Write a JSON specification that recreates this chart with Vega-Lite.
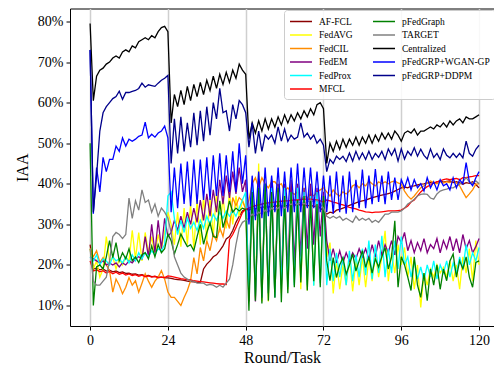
{
"$schema": "https://vega.github.io/schema/vega-lite/v6.json",
"width": 424, "height": 317.5,
"autosize": {"type": "none"},
"padding": {"left": 70, "top": 8.5, "right": 0, "bottom": 40.5},
"background": "white",
"config": {
 "font": "Liberation Serif",
 "view": {"stroke": "black", "strokeWidth": 1},
 "axis": {"labelColor": "black", "titleColor": "black", "titleFontWeight": "normal", "tickColor": "black", "domain": false, "labelFontSize": 14, "titleFontSize": 16, "tickSize": 4, "labelPadding": 3, "labelFont": "Liberation Serif", "titleFont": "Liberation Serif"}
},
"data": {"values": [
{"r":0,"AF-FCL":25,"FedAVG":24,"FedCIL":24,"FedEM":22,"FedProx":22,"MFCL":21,"pFedGraph":50,"TARGET":24,"Centralized":79.5,"pFedGRP+WGAN-GP":73,"pFedGRP+DDPM":73},
{"r":1,"AF-FCL":19,"FedAVG":19,"FedCIL":22,"FedEM":21.5,"FedProx":21,"MFCL":18.5,"pFedGraph":10,"TARGET":16,"Centralized":60.5,"pFedGRP+WGAN-GP":32.6,"pFedGRP+DDPM":33},
{"r":2,"AF-FCL":19.2,"FedAVG":21,"FedCIL":23.5,"FedEM":21,"FedProx":22.5,"MFCL":18.8,"pFedGraph":19.5,"TARGET":15,"Centralized":66.5,"pFedGRP+WGAN-GP":44,"pFedGRP+DDPM":42},
{"r":3,"AF-FCL":18.8,"FedAVG":17,"FedCIL":20.6,"FedEM":20.5,"FedProx":20,"MFCL":18.3,"pFedGraph":20,"TARGET":15,"Centralized":68,"pFedGRP+WGAN-GP":38,"pFedGRP+DDPM":53},
{"r":4,"AF-FCL":19,"FedAVG":19,"FedCIL":21.8,"FedEM":21,"FedProx":21.5,"MFCL":18.6,"pFedGraph":19,"TARGET":16,"Centralized":68.5,"pFedGRP+WGAN-GP":46.5,"pFedGRP+DDPM":57.5},
{"r":5,"AF-FCL":18.5,"FedAVG":27,"FedCIL":20,"FedEM":20,"FedProx":21,"MFCL":18,"pFedGraph":22,"TARGET":17,"Centralized":69.5,"pFedGRP+WGAN-GP":43,"pFedGRP+DDPM":59},
{"r":6,"AF-FCL":18.7,"FedAVG":21,"FedCIL":18.6,"FedEM":20.5,"FedProx":20,"MFCL":18.4,"pFedGraph":26,"TARGET":21,"Centralized":70,"pFedGRP+WGAN-GP":46,"pFedGRP+DDPM":60},
{"r":7,"AF-FCL":18.3,"FedAVG":22,"FedCIL":13.3,"FedEM":20,"FedProx":22,"MFCL":17.8,"pFedGraph":21.8,"TARGET":27,"Centralized":71,"pFedGRP+WGAN-GP":46,"pFedGRP+DDPM":61},
{"r":8,"AF-FCL":18.5,"FedAVG":19,"FedCIL":16.5,"FedEM":20.5,"FedProx":21,"MFCL":18.2,"pFedGraph":25.5,"TARGET":28,"Centralized":71.5,"pFedGRP+WGAN-GP":49.3,"pFedGRP+DDPM":61.5},
{"r":9,"AF-FCL":18.1,"FedAVG":21.5,"FedCIL":15,"FedEM":19.5,"FedProx":21.5,"MFCL":17.7,"pFedGraph":21,"TARGET":27.5,"Centralized":71,"pFedGRP+WGAN-GP":48,"pFedGRP+DDPM":62.8},
{"r":10,"AF-FCL":18.3,"FedAVG":20,"FedCIL":12.9,"FedEM":20.5,"FedProx":20.5,"MFCL":18,"pFedGraph":23,"TARGET":26.5,"Centralized":72.5,"pFedGRP+WGAN-GP":51.3,"pFedGRP+DDPM":60.8},
{"r":11,"AF-FCL":17.9,"FedAVG":22,"FedCIL":14.5,"FedEM":20,"FedProx":22,"MFCL":17.5,"pFedGraph":21.5,"TARGET":27.5,"Centralized":73,"pFedGRP+WGAN-GP":49.3,"pFedGRP+DDPM":62.5},
{"r":12,"AF-FCL":18,"FedAVG":21,"FedCIL":16.9,"FedEM":21,"FedProx":20.5,"MFCL":17.8,"pFedGraph":24,"TARGET":36.5,"Centralized":72.5,"pFedGRP+WGAN-GP":51,"pFedGRP+DDPM":62.5},
{"r":13,"AF-FCL":17.7,"FedAVG":28.5,"FedCIL":15,"FedEM":20.5,"FedProx":22.5,"MFCL":17.4,"pFedGraph":21,"TARGET":31.5,"Centralized":74,"pFedGRP+WGAN-GP":50.5,"pFedGRP+DDPM":62.8},
{"r":14,"AF-FCL":17.8,"FedAVG":21.5,"FedCIL":16.1,"FedEM":21.5,"FedProx":21,"MFCL":17.6,"pFedGraph":22,"TARGET":35.8,"Centralized":73.5,"pFedGRP+WGAN-GP":51,"pFedGRP+DDPM":63},
{"r":15,"AF-FCL":17.5,"FedAVG":28,"FedCIL":13.3,"FedEM":22,"FedProx":23,"MFCL":17.2,"pFedGraph":20.6,"TARGET":33.5,"Centralized":75,"pFedGRP+WGAN-GP":51.7,"pFedGRP+DDPM":63.5},
{"r":16,"AF-FCL":17.6,"FedAVG":21,"FedCIL":15.5,"FedEM":21.5,"FedProx":21.5,"MFCL":17.5,"pFedGraph":22.5,"TARGET":38.5,"Centralized":75.5,"pFedGRP+WGAN-GP":52,"pFedGRP+DDPM":64.8},
{"r":17,"AF-FCL":17.3,"FedAVG":28,"FedCIL":17.8,"FedEM":27,"FedProx":23,"MFCL":17.1,"pFedGraph":23,"TARGET":35.4,"Centralized":76,"pFedGRP+WGAN-GP":55.2,"pFedGRP+DDPM":63.8},
{"r":18,"AF-FCL":17.4,"FedAVG":23,"FedCIL":16,"FedEM":22,"FedProx":22,"MFCL":17.3,"pFedGraph":21.5,"TARGET":36,"Centralized":75.5,"pFedGRP+WGAN-GP":51.3,"pFedGRP+DDPM":64.4},
{"r":19,"AF-FCL":17.1,"FedAVG":27,"FedCIL":14.5,"FedEM":30,"FedProx":23.5,"MFCL":17,"pFedGraph":24.7,"TARGET":33,"Centralized":76.5,"pFedGRP+WGAN-GP":52.2,"pFedGRP+DDPM":64.2},
{"r":20,"AF-FCL":17.2,"FedAVG":22.5,"FedCIL":16,"FedEM":23,"FedProx":22.5,"MFCL":17.2,"pFedGraph":22,"TARGET":35,"Centralized":76,"pFedGRP+WGAN-GP":51.5,"pFedGRP+DDPM":64},
{"r":21,"AF-FCL":17,"FedAVG":27.5,"FedCIL":17,"FedEM":31,"FedProx":24,"MFCL":16.8,"pFedGraph":25,"TARGET":32,"Centralized":77.5,"pFedGRP+WGAN-GP":52.5,"pFedGRP+DDPM":64.8},
{"r":22,"AF-FCL":17,"FedAVG":24,"FedCIL":18.6,"FedEM":24,"FedProx":23.5,"MFCL":17,"pFedGraph":23,"TARGET":34,"Centralized":78.5,"pFedGRP+WGAN-GP":53,"pFedGRP+DDPM":65.5},
{"r":23,"AF-FCL":16.8,"FedAVG":28,"FedCIL":16.5,"FedEM":31.5,"FedProx":25,"MFCL":16.9,"pFedGraph":24,"TARGET":33,"Centralized":78.8,"pFedGRP+WGAN-GP":54.2,"pFedGRP+DDPM":66},
{"r":24,"AF-FCL":16.8,"FedAVG":33,"FedCIL":13.3,"FedEM":27,"FedProx":37,"MFCL":17.3,"pFedGraph":27.6,"TARGET":31.5,"Centralized":77.5,"pFedGRP+WGAN-GP":51.3,"pFedGRP+DDPM":66.7},
{"r":25,"AF-FCL":16.7,"FedAVG":30,"FedCIL":12,"FedEM":28,"FedProx":38,"MFCL":17.2,"pFedGraph":26,"TARGET":28,"Centralized":55,"pFedGRP+WGAN-GP":33,"pFedGRP+DDPM":45},
{"r":26,"AF-FCL":16.5,"FedAVG":25,"FedCIL":12,"FedEM":31,"FedProx":31.5,"MFCL":17,"pFedGraph":22.7,"TARGET":22,"Centralized":62,"pFedGRP+WGAN-GP":44,"pFedGRP+DDPM":56},
{"r":27,"AF-FCL":16.4,"FedAVG":33,"FedCIL":11,"FedEM":28.5,"FedProx":27.5,"MFCL":16.8,"pFedGraph":25,"TARGET":20,"Centralized":59,"pFedGRP+WGAN-GP":34,"pFedGRP+DDPM":47.5},
{"r":28,"AF-FCL":16.3,"FedAVG":24.5,"FedCIL":10,"FedEM":32,"FedProx":31,"MFCL":16.6,"pFedGraph":27.6,"TARGET":18,"Centralized":63,"pFedGRP+WGAN-GP":45,"pFedGRP+DDPM":56.5},
{"r":29,"AF-FCL":16.2,"FedAVG":34,"FedCIL":12,"FedEM":29,"FedProx":28,"MFCL":16.5,"pFedGraph":26,"TARGET":17,"Centralized":59.5,"pFedGRP+WGAN-GP":35,"pFedGRP+DDPM":48},
{"r":30,"AF-FCL":16,"FedAVG":25,"FedCIL":13.7,"FedEM":33,"FedProx":31.5,"MFCL":16.4,"pFedGraph":24.5,"TARGET":16.5,"Centralized":64,"pFedGRP+WGAN-GP":45.5,"pFedGRP+DDPM":55},
{"r":31,"AF-FCL":15.9,"FedAVG":35,"FedCIL":16.1,"FedEM":30,"FedProx":29,"MFCL":16.3,"pFedGraph":25,"TARGET":16,"Centralized":60.5,"pFedGRP+WGAN-GP":34.5,"pFedGRP+DDPM":49},
{"r":32,"AF-FCL":15.8,"FedAVG":24,"FedCIL":21.8,"FedEM":34,"FedProx":30.5,"MFCL":16.1,"pFedGraph":23.5,"TARGET":16,"Centralized":64.5,"pFedGRP+WGAN-GP":46,"pFedGRP+DDPM":57.5},
{"r":33,"AF-FCL":15.7,"FedAVG":36,"FedCIL":17.8,"FedEM":30.5,"FedProx":28.5,"MFCL":16,"pFedGraph":27,"TARGET":15.5,"Centralized":61.5,"pFedGRP+WGAN-GP":35,"pFedGRP+DDPM":49.5},
{"r":34,"AF-FCL":15.7,"FedAVG":25,"FedCIL":24.3,"FedEM":36,"FedProx":31,"MFCL":15.9,"pFedGraph":30,"TARGET":15.5,"Centralized":65,"pFedGRP+WGAN-GP":46,"pFedGRP+DDPM":58},
{"r":35,"AF-FCL":19,"FedAVG":37,"FedCIL":21,"FedEM":31,"FedProx":29,"MFCL":15.8,"pFedGraph":25.1,"TARGET":15.5,"Centralized":62,"pFedGRP+WGAN-GP":36,"pFedGRP+DDPM":50.5},
{"r":36,"AF-FCL":20.2,"FedAVG":26,"FedCIL":26,"FedEM":37.5,"FedProx":32,"MFCL":15.7,"pFedGraph":28,"TARGET":15,"Centralized":65.5,"pFedGRP+WGAN-GP":46.5,"pFedGRP+DDPM":59},
{"r":37,"AF-FCL":21,"FedAVG":36.5,"FedCIL":23.5,"FedEM":32,"FedProx":30,"MFCL":15.6,"pFedGraph":30.4,"TARGET":15.2,"Centralized":63,"pFedGRP+WGAN-GP":36,"pFedGRP+DDPM":52},
{"r":38,"AF-FCL":22,"FedAVG":27,"FedCIL":27.6,"FedEM":38.5,"FedProx":32.5,"MFCL":15.5,"pFedGraph":27,"TARGET":15,"Centralized":66.5,"pFedGRP+WGAN-GP":47,"pFedGRP+DDPM":60},
{"r":39,"AF-FCL":22.5,"FedAVG":38,"FedCIL":26,"FedEM":33,"FedProx":31,"MFCL":15.4,"pFedGraph":26.8,"TARGET":14.5,"Centralized":63.5,"pFedGRP+WGAN-GP":37,"pFedGRP+DDPM":56},
{"r":40,"AF-FCL":23.5,"FedAVG":28,"FedCIL":29.2,"FedEM":41,"FedProx":33,"MFCL":15.3,"pFedGraph":35.8,"TARGET":15,"Centralized":67,"pFedGRP+WGAN-GP":47.5,"pFedGRP+DDPM":63.5},
{"r":41,"AF-FCL":24.7,"FedAVG":37,"FedCIL":27,"FedEM":35,"FedProx":31.5,"MFCL":15.3,"pFedGraph":29.2,"TARGET":14.5,"Centralized":64.5,"pFedGRP+WGAN-GP":37,"pFedGRP+DDPM":57.5},
{"r":42,"AF-FCL":26.4,"FedAVG":29,"FedCIL":31.3,"FedEM":42,"FedProx":33.3,"MFCL":15.2,"pFedGraph":32,"TARGET":15.5,"Centralized":67.5,"pFedGRP+WGAN-GP":47,"pFedGRP+DDPM":58},
{"r":43,"AF-FCL":27,"FedAVG":38,"FedCIL":29,"FedEM":36.5,"FedProx":32,"MFCL":26.3,"pFedGraph":35.8,"TARGET":16.5,"Centralized":65,"pFedGRP+WGAN-GP":38,"pFedGRP+DDPM":53},
{"r":44,"AF-FCL":28.5,"FedAVG":30,"FedCIL":36.6,"FedEM":43,"FedProx":33.5,"MFCL":27.5,"pFedGraph":33,"TARGET":20,"Centralized":68,"pFedGRP+WGAN-GP":48,"pFedGRP+DDPM":59.5},
{"r":45,"AF-FCL":30.5,"FedAVG":37,"FedCIL":34.6,"FedEM":37.5,"FedProx":32,"MFCL":29.2,"pFedGraph":34,"TARGET":25,"Centralized":66,"pFedGRP+WGAN-GP":38,"pFedGRP+DDPM":56},
{"r":46,"AF-FCL":32,"FedAVG":32,"FedCIL":36.6,"FedEM":44,"FedProx":34,"MFCL":31,"pFedGraph":33.3,"TARGET":29,"Centralized":69.5,"pFedGRP+WGAN-GP":50,"pFedGRP+DDPM":60.5},
{"r":47,"AF-FCL":33.3,"FedAVG":36,"FedCIL":35.8,"FedEM":38,"FedProx":36,"MFCL":32.9,"pFedGraph":34,"TARGET":30.5,"Centralized":68,"pFedGRP+WGAN-GP":40,"pFedGRP+DDPM":59.5},
{"r":48,"AF-FCL":33.8,"FedAVG":34,"FedCIL":33.7,"FedEM":41,"FedProx":38,"MFCL":33.7,"pFedGraph":33.7,"TARGET":31,"Centralized":67,"pFedGRP+WGAN-GP":47,"pFedGRP+DDPM":57.5},
{"r":49,"AF-FCL":33.5,"FedAVG":12,"FedCIL":36,"FedEM":11,"FedProx":13,"MFCL":34,"pFedGraph":8.7,"TARGET":31.5,"Centralized":51,"pFedGRP+WGAN-GP":30,"pFedGRP+DDPM":49},
{"r":50,"AF-FCL":34,"FedAVG":38,"FedCIL":40,"FedEM":40,"FedProx":40,"MFCL":34.3,"pFedGraph":38,"TARGET":32.5,"Centralized":55,"pFedGRP+WGAN-GP":42,"pFedGRP+DDPM":55},
{"r":51,"AF-FCL":33.8,"FedAVG":12,"FedCIL":41.5,"FedEM":11,"FedProx":12.4,"MFCL":34.6,"pFedGraph":11.2,"TARGET":32,"Centralized":52.5,"pFedGRP+WGAN-GP":31,"pFedGRP+DDPM":47.5},
{"r":52,"AF-FCL":34.3,"FedAVG":45,"FedCIL":39,"FedEM":41,"FedProx":39,"MFCL":34.8,"pFedGraph":39,"TARGET":33,"Centralized":55.5,"pFedGRP+WGAN-GP":43,"pFedGRP+DDPM":53},
{"r":53,"AF-FCL":34,"FedAVG":11,"FedCIL":41.5,"FedEM":12,"FedProx":12,"MFCL":35,"pFedGraph":10.5,"TARGET":32.5,"Centralized":53,"pFedGRP+WGAN-GP":31.5,"pFedGRP+DDPM":48},
{"r":54,"AF-FCL":34.5,"FedAVG":40,"FedCIL":40,"FedEM":40,"FedProx":40,"MFCL":35.2,"pFedGraph":40,"TARGET":33.5,"Centralized":56,"pFedGRP+WGAN-GP":44,"pFedGRP+DDPM":52},
{"r":55,"AF-FCL":34.2,"FedAVG":11,"FedCIL":39,"FedEM":13,"FedProx":13,"MFCL":35.3,"pFedGraph":11.2,"TARGET":33,"Centralized":53.5,"pFedGRP+WGAN-GP":32,"pFedGRP+DDPM":51},
{"r":56,"AF-FCL":34.6,"FedAVG":41,"FedCIL":40.5,"FedEM":41,"FedProx":39,"MFCL":35.4,"pFedGraph":38,"TARGET":34,"Centralized":56,"pFedGRP+WGAN-GP":42,"pFedGRP+DDPM":52},
{"r":57,"AF-FCL":34.3,"FedAVG":12,"FedCIL":40.5,"FedEM":12,"FedProx":12,"MFCL":35.5,"pFedGraph":12,"TARGET":33.5,"Centralized":54,"pFedGRP+WGAN-GP":33,"pFedGRP+DDPM":50},
{"r":58,"AF-FCL":34.8,"FedAVG":40,"FedCIL":39.5,"FedEM":40,"FedProx":38,"MFCL":35.6,"pFedGraph":39,"TARGET":34,"Centralized":56.5,"pFedGRP+WGAN-GP":44,"pFedGRP+DDPM":54},
{"r":59,"AF-FCL":34.4,"FedAVG":13,"FedCIL":40,"FedEM":15,"FedProx":14,"MFCL":35.7,"pFedGraph":10.8,"TARGET":34.5,"Centralized":54.5,"pFedGRP+WGAN-GP":32,"pFedGRP+DDPM":50.5},
{"r":60,"AF-FCL":34.7,"FedAVG":40,"FedCIL":38.2,"FedEM":40,"FedProx":39,"MFCL":35.8,"pFedGraph":37,"TARGET":34,"Centralized":57,"pFedGRP+WGAN-GP":43,"pFedGRP+DDPM":53.5},
{"r":61,"AF-FCL":34.5,"FedAVG":14,"FedCIL":39,"FedEM":18,"FedProx":14.5,"MFCL":35.8,"pFedGraph":13,"TARGET":34.5,"Centralized":55,"pFedGRP+WGAN-GP":33,"pFedGRP+DDPM":50.5},
{"r":62,"AF-FCL":34.9,"FedAVG":39,"FedCIL":38,"FedEM":41,"FedProx":38,"MFCL":35.9,"pFedGraph":38,"TARGET":35,"Centralized":57,"pFedGRP+WGAN-GP":44,"pFedGRP+DDPM":52},
{"r":63,"AF-FCL":34.6,"FedAVG":15.7,"FedCIL":37.4,"FedEM":20,"FedProx":15,"MFCL":36,"pFedGraph":14.5,"TARGET":34.5,"Centralized":55.5,"pFedGRP+WGAN-GP":33,"pFedGRP+DDPM":51},
{"r":64,"AF-FCL":35,"FedAVG":40,"FedCIL":38,"FedEM":40,"FedProx":39,"MFCL":36,"pFedGraph":36,"TARGET":35,"Centralized":57.5,"pFedGRP+WGAN-GP":45,"pFedGRP+DDPM":51.5},
{"r":65,"AF-FCL":34.7,"FedAVG":14,"FedCIL":35.8,"FedEM":22,"FedProx":16.9,"MFCL":36.1,"pFedGraph":15.7,"TARGET":35.5,"Centralized":56,"pFedGRP+WGAN-GP":33,"pFedGRP+DDPM":55},
{"r":66,"AF-FCL":34.9,"FedAVG":39,"FedCIL":37,"FedEM":39,"FedProx":38,"MFCL":36.2,"pFedGraph":37,"TARGET":35,"Centralized":58,"pFedGRP+WGAN-GP":44,"pFedGRP+DDPM":51.5},
{"r":67,"AF-FCL":34.5,"FedAVG":13.7,"FedCIL":36.5,"FedEM":24,"FedProx":15,"MFCL":36.2,"pFedGraph":13.7,"TARGET":35.5,"Centralized":56.5,"pFedGRP+WGAN-GP":34,"pFedGRP+DDPM":52.5},
{"r":68,"AF-FCL":34.8,"FedAVG":40,"FedCIL":37.5,"FedEM":40,"FedProx":37,"MFCL":36.2,"pFedGraph":36,"TARGET":36,"Centralized":58.5,"pFedGRP+WGAN-GP":44,"pFedGRP+DDPM":51},
{"r":69,"AF-FCL":34.4,"FedAVG":15,"FedCIL":37,"FedEM":25,"FedProx":14.9,"MFCL":36.1,"pFedGraph":16,"TARGET":35.5,"Centralized":57,"pFedGRP+WGAN-GP":34,"pFedGRP+DDPM":52},
{"r":70,"AF-FCL":34.6,"FedAVG":38,"FedCIL":38,"FedEM":39,"FedProx":38,"MFCL":36,"pFedGraph":35,"TARGET":36,"Centralized":59.5,"pFedGRP+WGAN-GP":43,"pFedGRP+DDPM":50},
{"r":71,"AF-FCL":34,"FedAVG":16,"FedCIL":38.5,"FedEM":27,"FedProx":15.5,"MFCL":35.8,"pFedGraph":14.5,"TARGET":35,"Centralized":60,"pFedGRP+WGAN-GP":33,"pFedGRP+DDPM":51},
{"r":72,"AF-FCL":33.3,"FedAVG":37,"FedCIL":39,"FedEM":38,"FedProx":37,"MFCL":35.5,"pFedGraph":37,"TARGET":34,"Centralized":58.5,"pFedGRP+WGAN-GP":42,"pFedGRP+DDPM":49.5},
{"r":73,"AF-FCL":32.5,"FedAVG":22,"FedCIL":38,"FedEM":26,"FedProx":15,"MFCL":36,"pFedGraph":21,"TARGET":32,"Centralized":45,"pFedGRP+WGAN-GP":33,"pFedGRP+DDPM":43},
{"r":74,"AF-FCL":33,"FedAVG":25.5,"FedCIL":37,"FedEM":21,"FedProx":24,"MFCL":35.8,"pFedGraph":16.1,"TARGET":31.5,"Centralized":50,"pFedGRP+WGAN-GP":42,"pFedGRP+DDPM":46},
{"r":75,"AF-FCL":32.8,"FedAVG":13,"FedCIL":38.5,"FedEM":24,"FedProx":16,"MFCL":35.5,"pFedGraph":21.8,"TARGET":32,"Centralized":48,"pFedGRP+WGAN-GP":32.6,"pFedGRP+DDPM":45},
{"r":76,"AF-FCL":33.5,"FedAVG":21,"FedCIL":37.5,"FedEM":20.5,"FedProx":23,"MFCL":35.3,"pFedGraph":16.9,"TARGET":31.5,"Centralized":50.5,"pFedGRP+WGAN-GP":43,"pFedGRP+DDPM":46.8},
{"r":77,"AF-FCL":33.7,"FedAVG":14,"FedCIL":37,"FedEM":23.5,"FedProx":17,"MFCL":35,"pFedGraph":20,"TARGET":32,"Centralized":48.5,"pFedGRP+WGAN-GP":33,"pFedGRP+DDPM":46},
{"r":78,"AF-FCL":34,"FedAVG":20,"FedCIL":38,"FedEM":20.5,"FedProx":22,"MFCL":34.8,"pFedGraph":21.8,"TARGET":31,"Centralized":51,"pFedGRP+WGAN-GP":42,"pFedGRP+DDPM":46.8},
{"r":79,"AF-FCL":34.3,"FedAVG":15,"FedCIL":37.5,"FedEM":23,"FedProx":15,"MFCL":34.5,"pFedGraph":17.7,"TARGET":31.5,"Centralized":49,"pFedGRP+WGAN-GP":32.6,"pFedGRP+DDPM":45.5},
{"r":80,"AF-FCL":34.7,"FedAVG":22,"FedCIL":38.2,"FedEM":21,"FedProx":23.5,"MFCL":34.2,"pFedGraph":20,"TARGET":31,"Centralized":51,"pFedGRP+WGAN-GP":43,"pFedGRP+DDPM":47.6},
{"r":81,"AF-FCL":35,"FedAVG":13.5,"FedCIL":39.5,"FedEM":23,"FedProx":16,"MFCL":34,"pFedGraph":22.7,"TARGET":30.5,"Centralized":49.5,"pFedGRP+WGAN-GP":33,"pFedGRP+DDPM":45.6},
{"r":82,"AF-FCL":35.3,"FedAVG":21,"FedCIL":39.9,"FedEM":21.5,"FedProx":22.5,"MFCL":33.8,"pFedGraph":18.5,"TARGET":32,"Centralized":51.5,"pFedGRP+WGAN-GP":41,"pFedGRP+DDPM":48},
{"r":83,"AF-FCL":35.6,"FedAVG":15,"FedCIL":39,"FedEM":24,"FedProx":17,"MFCL":33.5,"pFedGraph":21,"TARGET":31,"Centralized":49.5,"pFedGRP+WGAN-GP":34,"pFedGRP+DDPM":46},
{"r":84,"AF-FCL":35.8,"FedAVG":22,"FedCIL":40,"FedEM":22,"FedProx":24,"MFCL":33.3,"pFedGraph":23.5,"TARGET":31.5,"Centralized":51.5,"pFedGRP+WGAN-GP":43.5,"pFedGRP+DDPM":47.6},
{"r":85,"AF-FCL":36,"FedAVG":14.5,"FedCIL":39.5,"FedEM":24,"FedProx":17.5,"MFCL":33.1,"pFedGraph":19.4,"TARGET":31,"Centralized":50,"pFedGRP+WGAN-GP":34,"pFedGRP+DDPM":46},
{"r":86,"AF-FCL":36.3,"FedAVG":21.5,"FedCIL":40.7,"FedEM":21.5,"FedProx":26,"MFCL":33,"pFedGraph":22,"TARGET":31.5,"Centralized":52,"pFedGRP+WGAN-GP":42,"pFedGRP+DDPM":48},
{"r":87,"AF-FCL":36.6,"FedAVG":16,"FedCIL":40,"FedEM":25,"FedProx":16.5,"MFCL":32.9,"pFedGraph":18,"TARGET":30.5,"Centralized":50,"pFedGRP+WGAN-GP":35,"pFedGRP+DDPM":46},
{"r":88,"AF-FCL":36.8,"FedAVG":23,"FedCIL":39.5,"FedEM":22,"FedProx":25,"MFCL":33,"pFedGraph":21.5,"TARGET":31,"Centralized":52,"pFedGRP+WGAN-GP":43.6,"pFedGRP+DDPM":47.5},
{"r":89,"AF-FCL":37,"FedAVG":17,"FedCIL":40.5,"FedEM":26,"FedProx":18,"MFCL":33,"pFedGraph":19.5,"TARGET":30.5,"Centralized":50.5,"pFedGRP+WGAN-GP":35.5,"pFedGRP+DDPM":46.5},
{"r":90,"AF-FCL":37.2,"FedAVG":22,"FedCIL":40,"FedEM":22.5,"FedProx":27.2,"MFCL":33.1,"pFedGraph":22,"TARGET":31.5,"Centralized":52.5,"pFedGRP+WGAN-GP":42,"pFedGRP+DDPM":48},
{"r":91,"AF-FCL":37.4,"FedAVG":28.4,"FedCIL":40.5,"FedEM":25,"FedProx":17,"MFCL":33.2,"pFedGraph":24.3,"TARGET":32.5,"Centralized":51,"pFedGRP+WGAN-GP":35,"pFedGRP+DDPM":46},
{"r":92,"AF-FCL":37.6,"FedAVG":16,"FedCIL":40,"FedEM":23,"FedProx":24,"MFCL":33.3,"pFedGraph":19,"TARGET":32.5,"Centralized":52.5,"pFedGRP+WGAN-GP":43,"pFedGRP+DDPM":48.6},
{"r":93,"AF-FCL":37.8,"FedAVG":23,"FedCIL":40.5,"FedEM":26,"FedProx":18,"MFCL":33.3,"pFedGraph":22,"TARGET":33,"Centralized":51,"pFedGRP+WGAN-GP":36,"pFedGRP+DDPM":47},
{"r":94,"AF-FCL":38.2,"FedAVG":18,"FedCIL":40.7,"FedEM":22.5,"FedProx":26,"MFCL":33.3,"pFedGraph":30.9,"TARGET":33,"Centralized":53,"pFedGRP+WGAN-GP":41.5,"pFedGRP+DDPM":48.6},
{"r":95,"AF-FCL":38.6,"FedAVG":25,"FedCIL":40.2,"FedEM":27,"FedProx":19,"MFCL":33.4,"pFedGraph":14.5,"TARGET":33,"Centralized":52,"pFedGRP+WGAN-GP":36,"pFedGRP+DDPM":45.6},
{"r":96,"AF-FCL":39,"FedAVG":20,"FedCIL":39.9,"FedEM":25.5,"FedProx":27,"MFCL":33.5,"pFedGraph":22,"TARGET":33.3,"Centralized":50.5,"pFedGRP+WGAN-GP":41,"pFedGRP+DDPM":48.6},
{"r":97,"AF-FCL":39.2,"FedAVG":24.3,"FedCIL":38.2,"FedEM":28,"FedProx":20,"MFCL":34,"pFedGraph":20,"TARGET":34,"Centralized":52.5,"pFedGRP+WGAN-GP":39,"pFedGRP+DDPM":46.1},
{"r":98,"AF-FCL":39,"FedAVG":17,"FedCIL":37,"FedEM":23.5,"FedProx":22,"MFCL":34.5,"pFedGraph":17,"TARGET":35,"Centralized":53,"pFedGRP+WGAN-GP":41.5,"pFedGRP+DDPM":48},
{"r":99,"AF-FCL":39.4,"FedAVG":22,"FedCIL":36.2,"FedEM":26,"FedProx":17,"MFCL":35.5,"pFedGraph":13.7,"TARGET":35.5,"Centralized":52.5,"pFedGRP+WGAN-GP":38.5,"pFedGRP+DDPM":47},
{"r":100,"AF-FCL":39.5,"FedAVG":14,"FedCIL":37,"FedEM":23,"FedProx":21,"MFCL":36,"pFedGraph":22,"TARGET":36.2,"Centralized":53.5,"pFedGRP+WGAN-GP":41,"pFedGRP+DDPM":48.9},
{"r":101,"AF-FCL":39.7,"FedAVG":20,"FedCIL":38,"FedEM":25.5,"FedProx":16.5,"MFCL":37,"pFedGraph":15,"TARGET":37,"Centralized":52,"pFedGRP+WGAN-GP":39,"pFedGRP+DDPM":46.8},
{"r":102,"AF-FCL":39.9,"FedAVG":9.5,"FedCIL":39,"FedEM":23.5,"FedProx":19.5,"MFCL":38,"pFedGraph":12,"TARGET":37.4,"Centralized":53,"pFedGRP+WGAN-GP":40,"pFedGRP+DDPM":48.5},
{"r":103,"AF-FCL":40,"FedAVG":18,"FedCIL":39.5,"FedEM":26.5,"FedProx":16.1,"MFCL":38.7,"pFedGraph":18,"TARGET":37.5,"Centralized":53,"pFedGRP+WGAN-GP":38.2,"pFedGRP+DDPM":47},
{"r":104,"AF-FCL":40.2,"FedAVG":15,"FedCIL":40.2,"FedEM":23,"FedProx":20,"MFCL":39.3,"pFedGraph":11.2,"TARGET":37.4,"Centralized":53.5,"pFedGRP+WGAN-GP":41.5,"pFedGRP+DDPM":46.1},
{"r":105,"AF-FCL":40.3,"FedAVG":19,"FedCIL":40.7,"FedEM":25,"FedProx":17,"MFCL":39.7,"pFedGraph":19,"TARGET":36.5,"Centralized":54,"pFedGRP+WGAN-GP":39,"pFedGRP+DDPM":48.6},
{"r":106,"AF-FCL":40.1,"FedAVG":17,"FedCIL":40.3,"FedEM":24,"FedProx":21,"MFCL":40.2,"pFedGraph":15,"TARGET":36.2,"Centralized":53.5,"pFedGRP+WGAN-GP":40.5,"pFedGRP+DDPM":46.5},
{"r":107,"AF-FCL":40.5,"FedAVG":20,"FedCIL":40,"FedEM":26.5,"FedProx":16.5,"MFCL":40.5,"pFedGraph":20,"TARGET":37.5,"Centralized":54.5,"pFedGRP+WGAN-GP":38.5,"pFedGRP+DDPM":47.5},
{"r":108,"AF-FCL":40.7,"FedAVG":18,"FedCIL":40.5,"FedEM":23,"FedProx":20,"MFCL":40.7,"pFedGraph":14,"TARGET":38.2,"Centralized":54,"pFedGRP+WGAN-GP":41,"pFedGRP+DDPM":46},
{"r":109,"AF-FCL":40.4,"FedAVG":19.4,"FedCIL":40.2,"FedEM":26,"FedProx":18,"MFCL":41,"pFedGraph":19,"TARGET":38.5,"Centralized":55,"pFedGRP+WGAN-GP":39.5,"pFedGRP+DDPM":48.6},
{"r":110,"AF-FCL":40.6,"FedAVG":17,"FedCIL":40.5,"FedEM":24,"FedProx":21,"MFCL":41.2,"pFedGraph":16.1,"TARGET":38.7,"Centralized":54,"pFedGRP+WGAN-GP":40,"pFedGRP+DDPM":47},
{"r":111,"AF-FCL":40.7,"FedAVG":21,"FedCIL":40.3,"FedEM":27,"FedProx":17,"MFCL":41,"pFedGraph":21,"TARGET":39,"Centralized":55.5,"pFedGRP+WGAN-GP":38.5,"pFedGRP+DDPM":46.4},
{"r":112,"AF-FCL":40.3,"FedAVG":16,"FedCIL":40.7,"FedEM":23.5,"FedProx":20.5,"MFCL":41.2,"pFedGraph":22.7,"TARGET":39,"Centralized":54.5,"pFedGRP+WGAN-GP":41.5,"pFedGRP+DDPM":47.5},
{"r":113,"AF-FCL":40.5,"FedAVG":20,"FedCIL":40.2,"FedEM":26.5,"FedProx":18,"MFCL":41.3,"pFedGraph":17,"TARGET":39.5,"Centralized":55.5,"pFedGRP+WGAN-GP":39,"pFedGRP+DDPM":46.5},
{"r":114,"AF-FCL":40.2,"FedAVG":14,"FedCIL":39.5,"FedEM":23,"FedProx":22,"MFCL":41,"pFedGraph":21,"TARGET":39.9,"Centralized":56,"pFedGRP+WGAN-GP":41,"pFedGRP+DDPM":47.5},
{"r":115,"AF-FCL":39.9,"FedAVG":22,"FedCIL":38,"FedEM":27.5,"FedProx":19,"MFCL":41.5,"pFedGraph":19,"TARGET":40.5,"Centralized":55,"pFedGRP+WGAN-GP":40,"pFedGRP+DDPM":46.4},
{"r":116,"AF-FCL":40.3,"FedAVG":18,"FedCIL":36.6,"FedEM":24,"FedProx":25,"MFCL":41.5,"pFedGraph":22,"TARGET":41.5,"Centralized":56.5,"pFedGRP+WGAN-GP":45.2,"pFedGRP+DDPM":50.5},
{"r":117,"AF-FCL":40.1,"FedAVG":24,"FedCIL":37.5,"FedEM":26,"FedProx":20,"MFCL":41.7,"pFedGraph":17,"TARGET":40.5,"Centralized":56,"pFedGRP+WGAN-GP":40.5,"pFedGRP+DDPM":47.5},
{"r":118,"AF-FCL":40.5,"FedAVG":16,"FedCIL":38.5,"FedEM":23,"FedProx":23,"MFCL":41.8,"pFedGraph":14.5,"TARGET":40,"Centralized":56,"pFedGRP+WGAN-GP":39.5,"pFedGRP+DDPM":46.8},
{"r":119,"AF-FCL":39.8,"FedAVG":26,"FedCIL":39.9,"FedEM":24.5,"FedProx":21,"MFCL":42,"pFedGraph":20.6,"TARGET":40.7,"Centralized":56.5,"pFedGRP+WGAN-GP":41.5,"pFedGRP+DDPM":48.5},
{"r":120,"AF-FCL":39,"FedAVG":20,"FedCIL":40,"FedEM":26.5,"FedProx":24.3,"MFCL":42,"pFedGraph":21,"TARGET":40,"Centralized":57,"pFedGRP+WGAN-GP":43,"pFedGRP+DDPM":49.5}
]},
"transform": [{"fold": ["AF-FCL","FedAVG","FedCIL","FedEM","FedProx","MFCL","pFedGraph","TARGET","Centralized","pFedGRP+WGAN-GP","pFedGRP+DDPM"], "as": ["method","value"]}],
"mark": {"type": "line", "strokeWidth": 1.3, "clip": true},
"encoding": {
 "x": {"field": "r", "type": "quantitative", "scale": {"domain": [-6.2, 124.6], "nice": false, "zero": false},
   "axis": {"values": [0,24,48,72,96,120], "title": "Round/Task", "grid": true, "gridColor": "#cfcfcf", "gridWidth": 1.5, "titlePadding": 2}},
 "y": {"field": "value", "type": "quantitative", "scale": {"domain": [4.95, 83.2], "nice": false, "zero": false},
   "axis": {"values": [10,20,30,40,50,60,70,80], "labelExpr": "datum.value + '%'", "title": "IAA", "grid": false, "titlePadding": 7}},
 "color": {"field": "method", "type": "nominal",
   "scale": {"domain": ["AF-FCL","FedAVG","FedCIL","FedEM","FedProx","MFCL","pFedGraph","TARGET","Centralized","pFedGRP+WGAN-GP","pFedGRP+DDPM"],
             "range": ["#8b0000","#ffff00","#ff8c00","#800080","#00ffff","#ff0000","#008000","#808080","#000000","#0000ff","#00008b"]},
   "legend": {"title": null, "orient": "none", "legendX": 214, "legendY": 1.5, "columns": 2, "columnPadding": 17, "rowPadding": 2.5,
     "symbolType": "M-1,0L3,0", "symbolSize": 121, "symbolStrokeWidth": 1.5, "labelFontSize": 9.5, "labelFont": "Liberation Serif", "labelColor": "black", "labelOffset": 17,
     "fillColor": "rgba(255,255,255,0.85)", "strokeColor": "#cccccc", "padding": 5, "cornerRadius": 3}}
}
}
